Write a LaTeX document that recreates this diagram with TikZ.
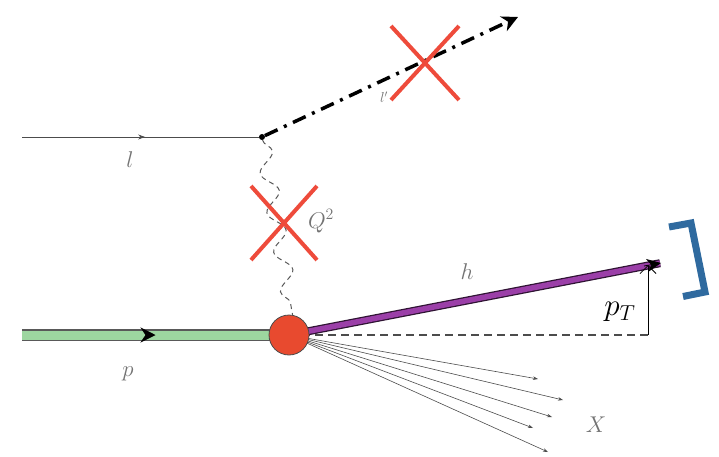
\documentclass[tikz,border=0pt]{standalone}
\usepackage{graphicx}
\usepackage{xcolor}
\usetikzlibrary{arrows.meta,shapes.misc,decorations.pathmorphing,decorations.markings}

\definecolor{vetored}{HTML}{EE4B3B}
\definecolor{blobred}{HTML}{E84A2F}
\definecolor{protgreen}{HTML}{9DD6A0}
\definecolor{hadpurple}{HTML}{9B3FA8}
\definecolor{brblue}{HTML}{2F6A9F}

\begin{document}
\begin{tikzpicture}[x=1pt, y=-1pt,
  lbl/.style={text=black!55, font=\huge},
  lepton/.style={draw=black!70, line width=0.8pt,
    postaction={decorate, decoration={markings,
      mark=at position 0.52 with {\arrow[black!70]{Stealth[length=7pt,width=5pt]}}}}},
  proton/.style={draw=protgreen, line width=9pt,
    preaction={draw=black!65, line width=12pt},
    postaction={decorate, decoration={markings,
      mark=at position 0.5 with {\arrow[black, line width=0.8pt]{Stealth[length=15pt,width=15pt,inset=5pt]}}}}},
  hadron/.style={draw=hadpurple, line width=5.5pt,
    preaction={draw=black!70!hadpurple, line width=8pt, shorten >=1pt},
    shorten >=1pt},
  scatlep/.style={draw=black, line width=3.5pt, dash pattern=on 14pt off 7pt on 3pt off 7pt,
    -{Stealth[length=16pt,width=16pt,inset=5pt]}},
  photon/.style={draw=black!65, line width=1pt, dash pattern=on 5pt off 4pt,
    decorate, decoration={snake, amplitude=8pt, segment length=40pt}},
  veto/.style={cross out, draw=vetored, line width=4pt, inner sep=0pt},
  jet/.style={draw=black!70, line width=0.6pt, -{Stealth[length=5pt,width=3.5pt]}},
  vdot/.style={circle, fill=black, inner sep=0pt, minimum size=6pt},
  blob/.style={circle, draw=black!70, fill=blobred, line width=0.8pt, minimum size=40pt, inner sep=0pt}
]
\useasboundingbox (0,0) rectangle (719,457);

% vertices and end points
\node[vdot] (lv) at (262,137) {};
\coordinate (lin)  at (22,137);
\coordinate (lout) at (518,17);
\coordinate (hc)   at (289,335);
\coordinate (pin)  at (22,335);
\coordinate (hout) at (661,263);
\coordinate (ptb)  at (648,335);
\coordinate (ptt)  at (648,265);
\foreach \n/\px/\py in {1/538/379, 2/563/400, 3/552/417, 4/533/428, 5/548/452}
  \coordinate (x\n) at (\px,\py);

% ---- lines ----
\draw[lepton] (lin) -- (lv);
\draw[scatlep] (lv) -- (lout);
\draw[proton] (pin) -- (hc);
\draw[black!70, line width=1.5pt, dash pattern=on 8pt off 5pt] (hc) -- (ptb);
\foreach \n in {1,...,5}
  \draw[jet] (hc) -- (x\n);
\draw[hadron] (hc) -- (hout);
\draw[black, line width=0.8pt, -{Stealth[length=14pt,width=13pt,inset=4pt]}] (hc) ++(355,-69) -- (hout);
\draw[black, line width=0.8pt, -{Straight Barb[length=8pt,width=16pt]}] (ptb) -- (ptt);

\node[blob] (blob) at (hc) {};
\draw[photon] (lv) -- (blob.80);

% vetoed momenta
\node[veto, minimum width=64pt, minimum height=70pt] (vl) at (425,63) {};
\node[veto, minimum width=62pt, minimum height=70pt] (vq) at (284,223) {};

% bracket
\draw[brblue, line width=7pt, line join=miter] (669,227) -- (691,223) -- (705,292) -- (683,296.5);

% ---- labels ----
\node[lbl] (ll)  at (130,160) {\scalebox{1.1}{$l$}};
\node[lbl, font=\Large] (llp) at (384,97) {$l'$};
\node[lbl] (lq)  at (321,221) {\scalebox{1.1}{$Q^2$}};
\node[lbl] (lp)  at (128,374) {\scalebox{1.1}{$p$}};
\node[lbl] (lh)  at (467,272) {\scalebox{1.1}{$h$}};
\node[lbl] (lx)  at (596,425) {\scalebox{1.1}{$X$}};
\node[font=\huge] (lpt) at (620,312) {\scalebox{1.5}{$p_T$}};

\end{tikzpicture}
\end{document}
